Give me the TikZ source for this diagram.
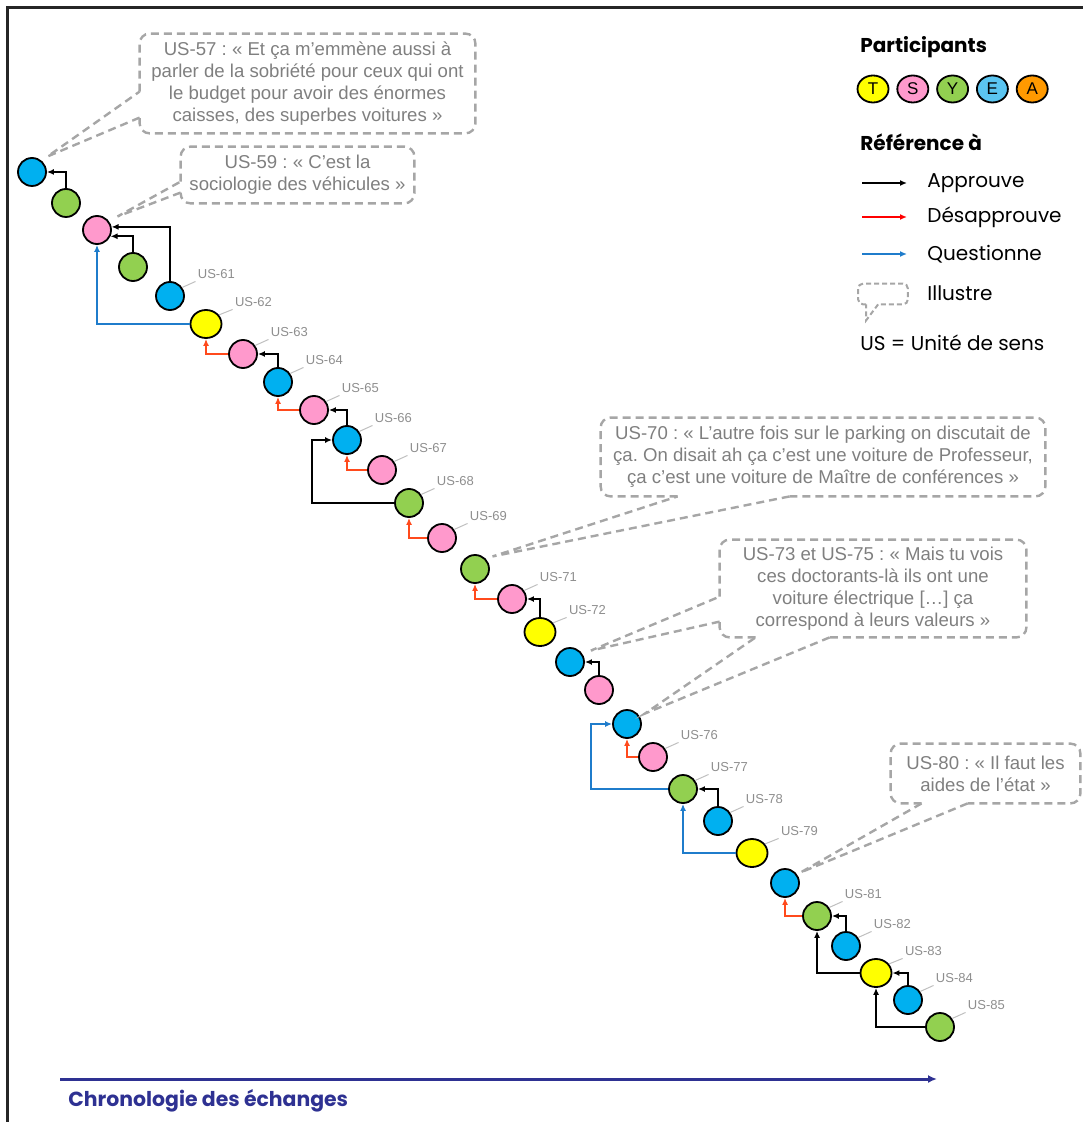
\documentclass[tikz,border=0pt]{standalone}
\usepackage{fontspec}
\setmainfont{Liberation Sans}
\newfontfamily\comic{Poppins}
\usetikzlibrary{positioning,shapes.geometric,arrows.meta}
\frenchspacing

\definecolor{colT}{HTML}{FFFF00}
\definecolor{colS}{HTML}{FF99CC}
\definecolor{colY}{HTML}{92D050}
\definecolor{colE}{HTML}{00B0F0}
\definecolor{colElight}{HTML}{5BC5F1}
\definecolor{colA}{HTML}{FF9900}
\definecolor{disapp}{HTML}{FF4A1C}
\definecolor{quest}{HTML}{1F7CCB}
\definecolor{illus}{HTML}{A6A6A6}
\definecolor{quotetext}{HTML}{7F7F7F}
\definecolor{lbltext}{HTML}{8E8E8E}
\definecolor{leadline}{HTML}{BFBFBF}
\definecolor{chrono}{HTML}{2E3192}

\begin{document}
\begin{tikzpicture}[x=0.5pt,y=-0.5pt,>={Latex[length=3.5pt,width=3pt]},
   part/.style={circle,draw,line width=0.9pt,minimum size=14pt,inner sep=0pt},
   pT/.style={part,ellipse,fill=colT,minimum width=15.5pt},
   pS/.style={part,fill=colS},
   pY/.style={part,fill=colY},
   pE/.style={part,fill=colE},
   lbl/.style={text=lbltext,font=\fontsize{6.5}{7}\selectfont,inner sep=1pt},
   lead/.style={draw=leadline,line width=0.5pt},
   appr/.style={draw=black,line width=1pt,->},
   disa/.style={draw=disapp,line width=1pt,->},
   ques/.style={draw=quest,line width=1pt,->},
   quote/.style={align=center,text=quotetext,font=\fontsize{9.3}{11}\selectfont,inner sep=0pt},
   illus/.style={draw=illus,line width=1.2pt,dash pattern=on 4pt off 2.5pt},
   box/.style={illus,rounded corners=5pt},
   legtitle/.style={anchor=west,inner sep=0pt,font=\comic\bfseries\fontsize{10}{12}\selectfont},
   legtext/.style={anchor=west,inner sep=0pt,font=\comic\fontsize{10}{12}\selectfont},
   legpart/.style={ellipse,draw,line width=0.9pt,minimum width=15.5pt,minimum height=13.5pt,inner sep=0pt,font=\fontsize{8.5}{9}\selectfont},
   legarrow/.style={line width=0.7pt,->}]
   \useasboundingbox (0,0) rectangle (1083,1122);
   \draw[black!85,line width=1.5pt] (7.5,1122) -- (7.5,7.5) -- (1083,7.5);

   % units of sense, in order
   \node[pE] (us57) at (32,172)  {};
   \node[pY] (us58) at (66,203)  {};
   \node[pS] (us59) at (97,230)  {};
   \node[pY] (us60) at (133,267) {};
   \node[pE] (us61) at (170,296) {};
   \node[pT] (us62) at (206,324) {};
   \node[pS] (us63) at (243,354) {};
   \node[pE] (us64) at (278,382) {};
   \node[pS] (us65) at (314,410) {};
   \node[pE] (us66) at (347,440) {};
   \node[pS] (us67) at (382,470) {};
   \node[pY] (us68) at (409,503) {};
   \node[pS] (us69) at (442,538) {};
   \node[pY] (us70) at (475,569) {};
   \node[pS] (us71) at (512,599) {};
   \node[pT] (us72) at (540,632) {};
   \node[pE] (us73) at (570,662) {};
   \node[pS] (us74) at (599,690) {};
   \node[pE] (us75) at (627,724) {};
   \node[pS] (us76) at (653,757) {};
   \node[pY] (us77) at (683,789) {};
   \node[pE] (us78) at (718,821) {};
   \node[pT] (us79) at (752,853) {};
   \node[pE] (us80) at (785,883) {};
   \node[pY] (us81) at (817,916) {};
   \node[pE] (us82) at (846,946) {};
   \node[pT] (us83) at (876,973) {};
   \node[pE] (us84) at (908,1000) {};
   \node[pY] (us85) at (940,1027) {};

   % labels
   \node[lbl,above right=2pt and 7.5pt of us61] (l61) {US-61};
   \node[lbl,above right=2pt and 7.5pt of us62] (l62) {US-62};
   \node[lbl,above right=2pt and 7.5pt of us63] (l63) {US-63};
   \node[lbl,above right=2pt and 7.5pt of us64] (l64) {US-64};
   \node[lbl,above right=2pt and 7.5pt of us65] (l65) {US-65};
   \node[lbl,above right=2pt and 7.5pt of us66] (l66) {US-66};
   \node[lbl,above right=2pt and 7.5pt of us67] (l67) {US-67};
   \node[lbl,above right=2pt and 7.5pt of us68] (l68) {US-68};
   \node[lbl,above right=2pt and 7.5pt of us69] (l69) {US-69};
   \node[lbl,above right=2pt and 7.5pt of us71] (l71) {US-71};
   \node[lbl,above right=2pt and 7.5pt of us72] (l72) {US-72};
   \node[lbl,above right=2pt and 7.5pt of us76] (l76) {US-76};
   \node[lbl,above right=2pt and 7.5pt of us77] (l77) {US-77};
   \node[lbl,above right=2pt and 7.5pt of us78] (l78) {US-78};
   \node[lbl,above right=2pt and 7.5pt of us79] (l79) {US-79};
   \node[lbl,above right=2pt and 7.5pt of us81] (l81) {US-81};
   \node[lbl,above right=2pt and 7.5pt of us82] (l82) {US-82};
   \node[lbl,above right=2pt and 7.5pt of us83] (l83) {US-83};
   \node[lbl,above right=2pt and 7.5pt of us84] (l84) {US-84};
   \node[lbl,above right=2pt and 7.5pt of us85] (l85) {US-85};
   \draw[lead] (us61.35) -- (l61.south west);
   \draw[lead] (us62.35) -- (l62.south west);
   \draw[lead] (us63.35) -- (l63.south west);
   \draw[lead] (us64.35) -- (l64.south west);
   \draw[lead] (us65.35) -- (l65.south west);
   \draw[lead] (us66.35) -- (l66.south west);
   \draw[lead] (us67.35) -- (l67.south west);
   \draw[lead] (us68.35) -- (l68.south west);
   \draw[lead] (us69.35) -- (l69.south west);
   \draw[lead] (us71.35) -- (l71.south west);
   \draw[lead] (us72.35) -- (l72.south west);
   \draw[lead] (us76.35) -- (l76.south west);
   \draw[lead] (us77.35) -- (l77.south west);
   \draw[lead] (us78.35) -- (l78.south west);
   \draw[lead] (us79.35) -- (l79.south west);
   \draw[lead] (us81.35) -- (l81.south west);
   \draw[lead] (us82.35) -- (l82.south west);
   \draw[lead] (us83.35) -- (l83.south west);
   \draw[lead] (us84.35) -- (l84.south west);
   \draw[lead] (us85.35) -- (l85.south west);

   % references
   \draw[appr] (us58.north) |- (us57.east);
   \draw[appr] (us60.north) |- (us59.-25);
   \draw[appr] (us61.north) |- (us59.12);
   \draw[ques] (us62.west)  -| (us59.south);
   \draw[disa] (us63.west)  -| (us62.south);
   \draw[appr] (us64.north) |- (us63.east);
   \draw[disa] (us65.west)  -| (us64.south);
   \draw[appr] (us66.north) |- (us65.east);
   \draw[disa] (us67.west)  -| (us66.south);
   \draw[appr] (us68.west)  -| ([xshift=-10pt]us66.west) -- (us66.west);
   \draw[disa] (us69.west)  -| (us68.south);
   \draw[disa] (us71.west)  -| (us70.south);
   \draw[appr] (us72.north) |- (us71.east);
   \draw[appr] (us74.north) |- (us73.east);
   \draw[ques] (us77.west)  -| ([xshift=-10.5pt]us75.west) -- (us75.west);
   \draw[disa] (us76.west)  -| (us75.south);
   \draw[appr] (us78.north) |- (us77.east);
   \draw[ques] (us79.west)  -| (us77.south);
   \draw[disa] (us81.west)  -| (us80.south);
   \draw[appr] (us82.north) |- (us81.east);
   \draw[appr] (us83.west)  -| (us81.south);
   \draw[appr] (us84.north) |- (us83.east);
   \draw[appr] (us85.west)  -| (us83.south);

   % quotes
   \node[quote,minimum width=167.5pt,minimum height=49.5pt] (q57) at (307.5,83.5)
      {US-57 : « Et ça m’emmène aussi à\\parler de la sobriété pour ceux qui ont\\le budget pour avoir des énormes\\caisses, des superbes voitures »};
   \node[quote,minimum width=116.5pt,minimum height=28pt] (q59) at (297.5,175)
      {US-59 : « C’est la\\sociologie des véhicules »};
   \node[quote,minimum width=222pt,minimum height=39pt] (q70) at (823,457)
      {US-70 : « L’autre fois sur le parking on discutait de\\ça. On disait ah ça c’est une voiture de Professeur,\\ça c’est une voiture de Maître de conférences »};
   \node[quote,minimum width=153pt,minimum height=48.5pt] (q73) at (873,588.5)
      {US-73 et US-75 : « Mais tu vois\\ces doctorants-là ils ont une\\voiture électrique […] ça\\correspond à leurs valeurs »};
   \node[quote,minimum width=94.5pt,minimum height=29.5pt] (q80) at (985.5,773.5)
      {US-80 : « Il faut les\\aides de l’état »};
   \draw[box] ([yshift=-29pt]q57.north west) -- (q57.north west) -- (q57.north east) -- (q57.south east) -- (q57.south west) -- ([yshift=-42pt]q57.north west);
   \draw[illus] ([yshift=-42pt]q57.north west) -- ([shift={(2.5pt,2.5pt)}]us57.north east) -- ([yshift=-29pt]q57.north west);
   \draw[box] ([yshift=-17.5pt]q59.north west) -- (q59.north west) -- (q59.north east) -- (q59.south east) -- (q59.south west) -- ([yshift=-23pt]q59.north west);
   \draw[illus] ([yshift=-23pt]q59.north west) -- ([shift={(5pt,1.5pt)}]us59.north east) -- ([yshift=-17.5pt]q59.north west);
   \draw[box] ([xshift=38.5pt]q70.south west) -- (q70.south west) -- (q70.north west) -- (q70.north east) -- (q70.south east) -- ([xshift=94.5pt]q70.south west);
   \draw[illus] ([xshift=94.5pt]q70.south west) -- ([shift={(3.5pt,1pt)}]us70.north east) -- ([xshift=38.5pt]q70.south west);
   \draw[box] ([yshift=-28.5pt]q73.north west) -- (q73.north west) -- (q73.north east) -- (q73.south east) -- ([xshift=55pt]q73.south west);
   \draw[box] ([xshift=18pt]q73.south west) -- (q73.south west) -- ([yshift=-41pt]q73.north west);
   \draw[illus] ([yshift=-41pt]q73.north west) -- ([shift={(4pt,2pt)}]us73.30) -- ([yshift=-28.5pt]q73.north west);
   \draw[illus] ([xshift=55pt]q73.south west) -- ([shift={(2.5pt,1.5pt)}]us75.30) -- ([xshift=18pt]q73.south west);
   \draw[box] ([xshift=15.5pt]q80.south west) -- (q80.south west) -- (q80.north west) -- (q80.north east) -- (q80.south east) -- ([xshift=38.5pt]q80.south west);
   \draw[illus] ([xshift=38.5pt]q80.south west) -- ([shift={(2.5pt,0pt)}]us80.north east) -- ([xshift=15.5pt]q80.south west);

   % legend
   \node[legtitle] (hPart) at (860,47) {Participants};
   \node[legpart,fill=colT] (lT) at (873,89) {T};
   \node[legpart,fill=colS,right=3.5pt of lT] (lS) {S};
   \node[legpart,fill=colY,right=3.5pt of lS] (lY) {Y};
   \node[legpart,fill=colElight,right=3.5pt of lY] (lE) {E};
   \node[legpart,fill=colA,right=3.5pt of lE] (lA) {A};
   \node[legtitle] (hRef) at (860,142) {Référence à};
   \node[legtext] (tAppr) at (927,183) {Approuve};
   \node[legtext] (tDisa) at (927,217) {Désapprouve};
   \node[legtext] (tQues) at (927,254) {Questionne};
   \node[legtext] (tIllu) at (927,293) {Illustre};
   \node[legtext] (tUS)   at (860,343) {US = Unité de sens};
   \draw[legarrow,black] ([xshift=-32.5pt]tAppr.west) -- ([xshift=-10pt]tAppr.west);
   \draw[legarrow,red]   ([xshift=-32.5pt]tDisa.west) -- ([xshift=-10pt]tDisa.west);
   \draw[legarrow,quest] ([xshift=-32.5pt]tQues.west) -- ([xshift=-10pt]tQues.west);
   \node[minimum width=24.5pt,minimum height=10pt,inner sep=0pt] (icon) at (883,294) {};
   \draw[box,line width=1pt,dash pattern=on 2.5pt off 1.5pt,rounded corners=2.5pt] ([xshift=4pt]icon.south west)
      -- (icon.south west) -- (icon.north west) -- (icon.north east) -- (icon.south east) -- ([xshift=10pt]icon.south west);
   \draw[illus,line width=1pt,dash pattern=on 2.5pt off 1.5pt] ([xshift=10pt]icon.south west)
      -- ([shift={(4pt,-8pt)}]icon.south west) -- ([xshift=4pt]icon.south west);

   % time axis
   \coordinate (c0) at (60,1079);
   \coordinate (c1) at (937,1079);
   \draw[chrono,line width=1.5pt,-{Latex[length=4.5pt,width=4pt]}] (c0) -- (c1);
   \node[anchor=west,inner sep=0pt,text=chrono,font=\comic\bfseries\fontsize{10.2}{12}\selectfont] (chrono) at (68,1101) {Chronologie des échanges};
\end{tikzpicture}
\end{document}
